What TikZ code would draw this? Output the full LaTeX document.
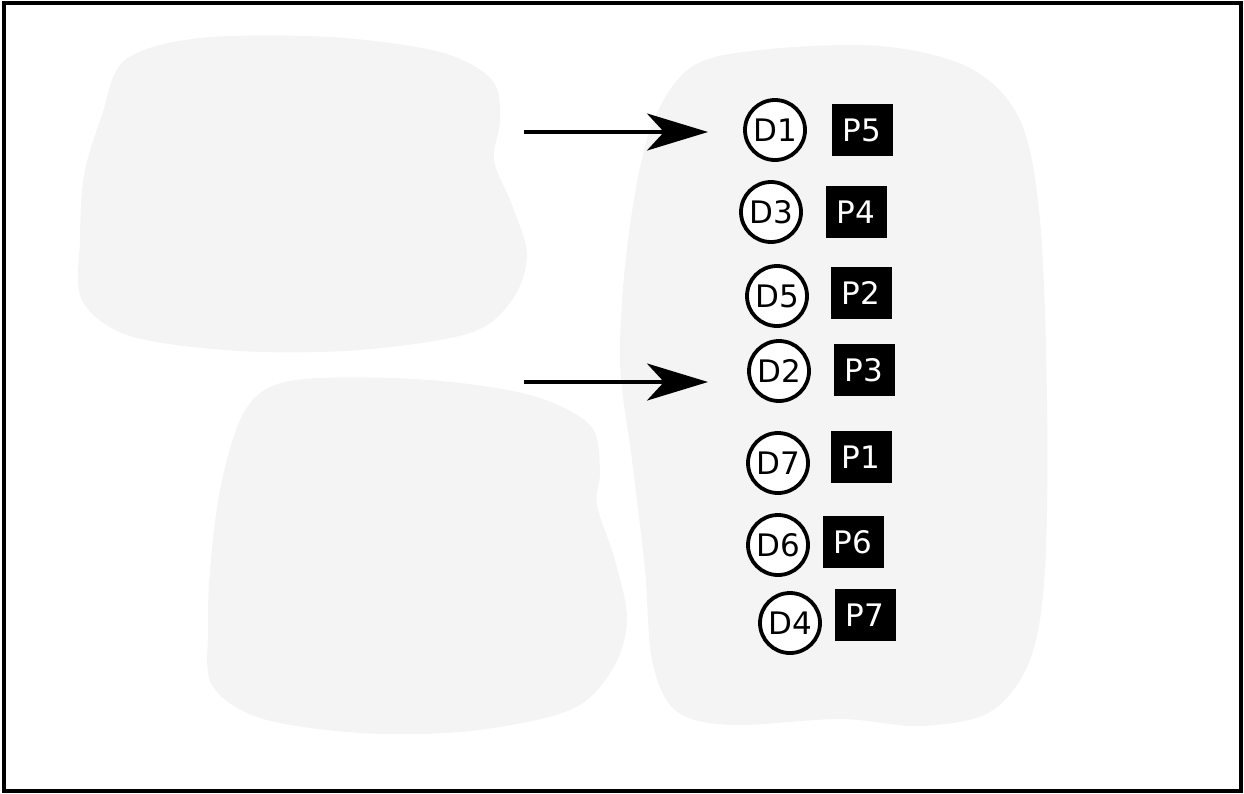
\documentclass[tikz,border=0pt]{standalone}
\usepackage{fontspec}
\setmainfont{DejaVu Sans}
\usetikzlibrary{arrows.meta}
\definecolor{blobgray}{HTML}{F4F4F4}
\tikzset{
  blob/.style={fill=blobgray, draw=none},
  dnode/.style={circle, draw=black, line width=3.8pt, fill=white, minimum size=60pt, inner sep=0pt, font=\fontsize{31}{33}\selectfont},
  pnode/.style={rectangle, fill=black, text=white, minimum width=61pt, minimum height=52pt, inner sep=0pt, font=\fontsize{31}{33}\selectfont},
  arr/.style={line width=3.6pt, -{Stealth[length=61pt, width=37pt, inset=17pt]}},
}
\begin{document}
\begin{tikzpicture}[x=1pt,y=-1pt]
\useasboundingbox (0,0) rectangle (1244,793);
% blobs
\path[blob] plot[smooth cycle, tension=0.55] coordinates {
 (200,38) (330,37) (440,52) (492,80) (500,120) (494,160) (512,205) (527,255) (512,300) (470,333) (360,350) (240,351) (130,336) (82,300) (80,240) (84,175) (102,115) (125,60)};
\path[blob] plot[smooth cycle, tension=0.55] coordinates {
 (320,378) (430,380) (530,395) (590,425) (600,470) (597,505) (615,560) (627,620) (612,670) (570,710) (470,731) (360,733) (260,718) (212,685) (208,630) (210,570) (220,490) (240,420) (268,388)};
\path[blob] plot[smooth cycle, tension=0.55] coordinates {
 (760,50) (880,46) (970,68) (1020,120) (1040,220) (1047,400) (1045,570) (1030,660) (990,712) (920,726) (840,719) (730,725) (675,710) (652,660) (645,570) (632,460) (620,360) (628,240) (650,130) (690,68)};
% border
\draw[line width=3.4pt] (4,3) rectangle (1241,791);
% D circles
\node[dnode] (D1) at (775,130) {D1};
\node[dnode] (D3) at (771,212) {D3};
\node[dnode] (D5) at (777,296) {D5};
\node[dnode] (D2) at (779,371) {D2};
\node[dnode] (D7) at (778,463) {D7};
\node[dnode] (D6) at (778,545) {D6};
\node[dnode] (D4) at (790,623) {D4};
% P boxes
\node[pnode] (P5) at (862,130) {P5};
\node[pnode] (P4) at (856,212) {P4};
\node[pnode] (P2) at (861,293) {P2};
\node[pnode] (P3) at (864,370) {P3};
\node[pnode] (P1) at (861,457) {P1};
\node[pnode] (P6) at (853,542) {P6};
\node[pnode] (P7) at (865,615) {P7};
% arrows
\coordinate (a1s) at (524,132);
\coordinate (a1e) at (708,132);
\coordinate (a2s) at (524,382);
\coordinate (a2e) at (708,382);
\draw[arr] (a1s) -- (a1e);
\draw[arr] (a2s) -- (a2e);
\end{tikzpicture}
\end{document}
